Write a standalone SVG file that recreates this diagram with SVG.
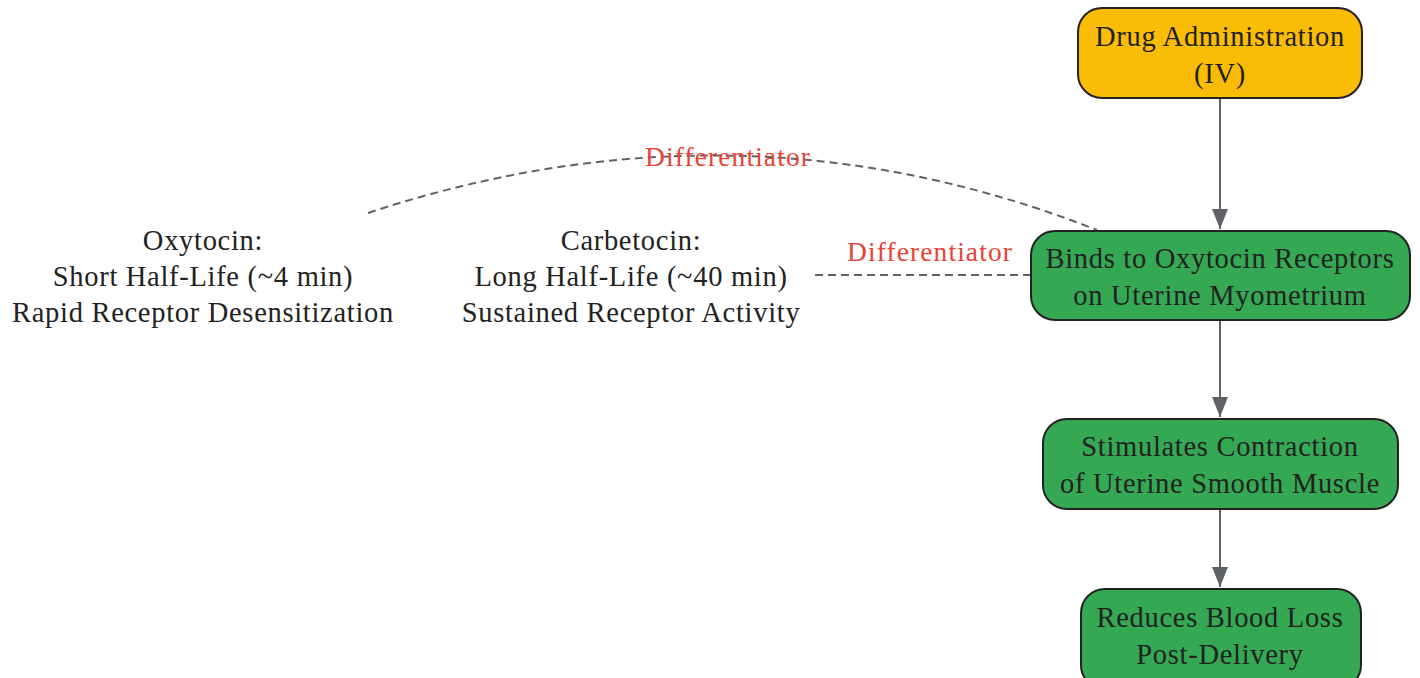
<svg xmlns="http://www.w3.org/2000/svg" width="1420" height="678" viewBox="0 0 1420 678">
<style>
.n{stroke:#222;stroke-width:2}
.y{fill:#fbbc05}
.g{fill:#34a853}
.t{font-family:"Liberation Serif",serif;font-size:28.5px;letter-spacing:0.7px;fill:#222;text-anchor:middle}
.lbl{font-family:"Liberation Serif",serif;font-size:27.5px;letter-spacing:1.1px;fill:#ea4335;text-anchor:middle}
.e{stroke:#5f6368;stroke-width:2;fill:none}
.d{stroke:#5f6368;stroke-width:2;fill:none;stroke-dasharray:8 5}
</style>
<defs>
<marker id="a" viewBox="0 0 20 16" refX="20" refY="8" markerWidth="20" markerHeight="16" markerUnits="userSpaceOnUse" orient="auto">
<path d="M0,0 L20,8 L0,16 z" fill="#5f6368"/>
</marker>
</defs>
<g id="connectors">
<path class="e" d="M1220,98 L1220,229" marker-end="url(#a)"/>
<path class="e" d="M1220,320 L1220,417" marker-end="url(#a)"/>
<path class="e" d="M1220,509 L1220,587" marker-end="url(#a)"/>
<path class="d" d="M368,213 Q740,90 1097,230"/>
<path class="d" d="M815,275 L1030,275"/>
<text class="lbl" x="728" y="166">Differentiator</text>
<text class="lbl" x="930" y="261">Differentiator</text>
</g>
<g id="drug">
<rect class="n y" x="1078" y="8" width="284" height="90" rx="24"/>
<text class="t" x="1220" y="46">Drug Administration</text>
<text class="t" x="1220" y="83">(IV)</text>
</g>
<g id="binds">
<rect class="n g" x="1031" y="231" width="379" height="89" rx="24"/>
<text class="t" x="1220" y="268">Binds to Oxytocin Receptors</text>
<text class="t" x="1220" y="305">on Uterine Myometrium</text>
</g>
<g id="stim">
<rect class="n g" x="1043" y="419" width="355" height="90" rx="24"/>
<text class="t" x="1220" y="456">Stimulates Contraction</text>
<text class="t" x="1220" y="493">of Uterine Smooth Muscle</text>
</g>
<g id="reduce">
<rect class="n g" x="1081" y="589" width="280" height="100" rx="24"/>
<text class="t" x="1220" y="627">Reduces Blood Loss</text>
<text class="t" x="1220" y="664">Post-Delivery</text>
</g>
<g id="oxytocin">
<text class="t" x="203" y="250">Oxytocin:</text>
<text class="t" x="203" y="286">Short Half-Life (~4 min)</text>
<text class="t" x="203" y="322">Rapid Receptor Desensitization</text>
</g>
<g id="carbetocin">
<text class="t" x="631" y="250">Carbetocin:</text>
<text class="t" x="631" y="286">Long Half-Life (~40 min)</text>
<text class="t" x="631" y="322">Sustained Receptor Activity</text>
</g>
</svg>
